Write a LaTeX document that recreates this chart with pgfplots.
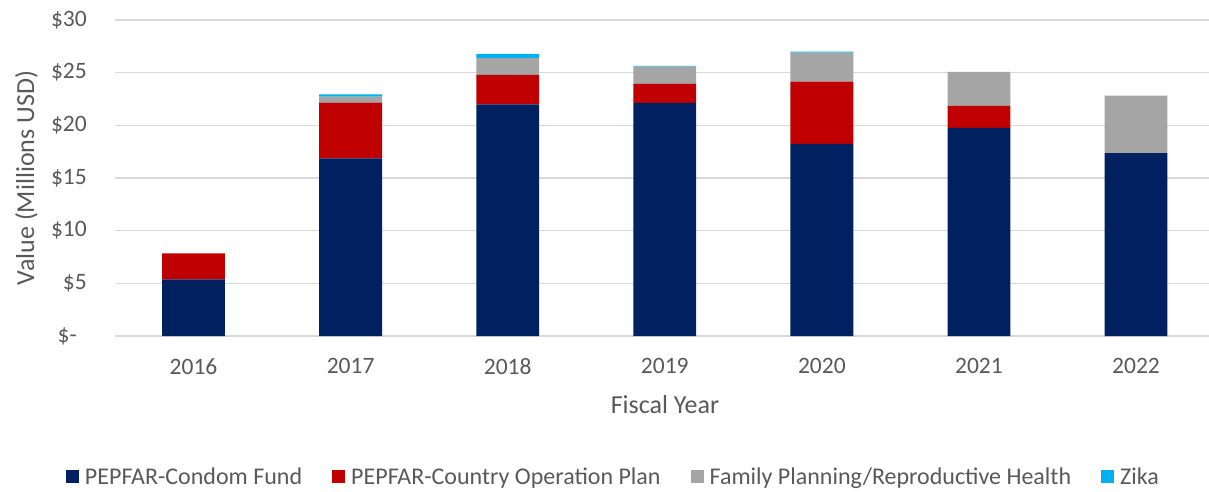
\documentclass[border=0pt]{standalone}
\usepackage{fontspec}
\setmainfont{Carlito}
\usepackage{pgfplots}
\pgfplotsset{compat=1.18}
\definecolor{navy}{HTML}{002060}
\definecolor{cred}{HTML}{C00000}
\definecolor{cgray}{HTML}{A5A5A5}
\definecolor{zika}{HTML}{00B0F0}
\definecolor{txt}{HTML}{595959}
\definecolor{gridc}{HTML}{D9D9D9}
\pgfplotsset{sqlegend/.style={legend image code/.code={\fill[##1] (0pt,-6.5pt) rectangle (13pt,6.5pt);}}}
\begin{document}
\begin{tikzpicture}
\begin{axis}[
  at={(115pt,155pt)}, anchor=south west,
  scale only axis, width=1094pt, height=316pt,
  ybar stacked, bar width=0.4,
  xmin=-0.5, xmax=6.465, ymin=0, ymax=30,
  xtick={0,...,6}, xticklabels={2016,2017,2018,2019,2020,2021,2022},
  ytick={0,5,10,15,20,25,30},
  yticklabels={\$-\rule{10pt}{0pt},\$5,\$10,\$15,\$20,\$25,\$30},
  axis line style={draw=none},
  major tick length=0pt, tick style={draw=none},
  ymajorgrids, grid style={gridc, line width=1.3pt},
  ticklabel style={font=\fontsize{23.5}{27}\selectfont, text=txt, inner sep=0pt},
  xticklabel shift=22pt, yticklabel shift=28pt,
  xlabel={Fiscal Year}, ylabel={Value (Millions USD)},
  xlabel style={at={(axis description cs:0.5027,-0.2468)}, anchor=base, font=\fontsize{26}{30}\selectfont, text=txt, inner sep=0pt},
  ylabel style={at={(axis description cs:-0.074,0.5)}, anchor=base, rotate=0, font=\fontsize{26}{30}\selectfont, text=txt, inner sep=0pt},
  every axis plot post/.append style={sqlegend},
  legend columns=4,
  legend style={at={(-0.0448,-0.4446)}, anchor=west, draw=none, fill=none,
    inner sep=0pt, outer sep=0pt, font=\fontsize{24}{28}\selectfont, text=txt,
    nodes={inner sep=0pt},
    /tikz/every odd column/.style={column sep=6pt},
    /tikz/every even column/.style={column sep=30pt}},
]
\addplot[fill=navy, draw=none] coordinates {(0,5.38) (1,16.87) (2,22.0) (3,22.13) (4,18.23) (5,19.75) (6,17.35)};
\addlegendentry{PEPFAR-Condom Fund}
\addplot[fill=cred, draw=none] coordinates {(0,2.47) (1,5.29) (2,2.79) (3,1.80) (4,5.92) (5,2.09) (6,0)};
\addlegendentry{PEPFAR-Country Operation Plan}
\addplot[fill=cgray, draw=none] coordinates {(0,0) (1,0.57) (2,1.58) (3,1.65) (4,2.75) (5,3.23) (6,5.47)};
\addlegendentry{Family Planning/Reproductive Health}
\addplot[fill=zika, draw=none] coordinates {(0,0) (1,0.22) (2,0.41) (3,0.06) (4,0.10) (5,0) (6,0)};
\addlegendentry{Zika}
\end{axis}
\pgfresetboundingbox
\path[use as bounding box] (0,0) rectangle (1209pt,491pt);
\end{tikzpicture}
\end{document}
